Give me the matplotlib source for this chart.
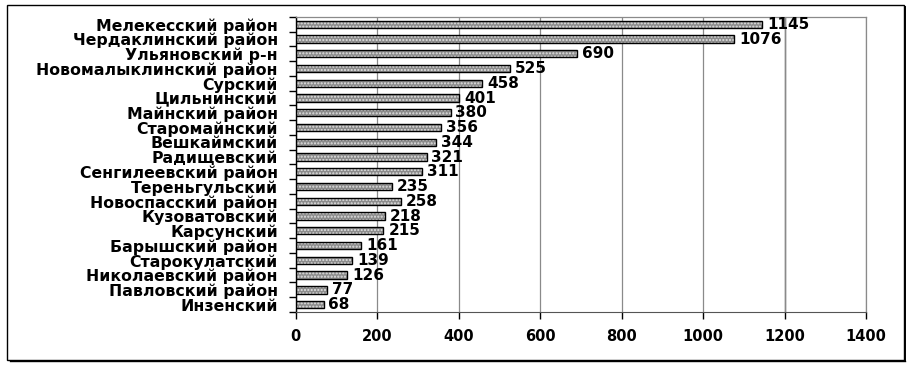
import matplotlib
matplotlib.use("Agg")
import matplotlib.pyplot as plt
import numpy as np

districts = ["Мелекесский район", "Чердаклинский район", "Ульяновский р-н",
             "Новомалыклинский район", "Сурский", "Цильнинский", "Майнский район",
             "Старомайнский", "Вешкаймский", "Радищевский", "Сенгилеевский район",
             "Тереньгульский", "Новоспасский район", "Кузоватовский", "Карсунский",
             "Барышский район", "Старокулатский", "Николаевский район",
             "Павловский район", "Инзенский"]
values = [1145, 1076, 690, 525, 458, 401, 380, 356, 344, 321, 311,
          235, 258, 218, 215, 161, 139, 126, 77, 68]
xticks = [0, 200, 400, 600, 800, 1000, 1200, 1400]

plt.rcParams['font.family'] = ['DejaVu Sans']
plt.rcParams['font.weight'] = 'bold'

fig = plt.figure(figsize=(9.13, 3.67), dpi=100)
ax = fig.add_axes([0.324, 0.150, 0.6245, 0.804])

y = np.arange(len(values))[::-1]
# hatched fill then black outline
ax.barh(y, values, height=0.5, color='#8c8c8c', edgecolor='#e0e0e0',
        hatch='.....', linewidth=0, zorder=3)
ax.barh(y, values, height=0.5, fill=False, edgecolor='black', linewidth=1.0, zorder=4)

for yi, v in zip(y, values):
    ax.text(v + 12, yi, str(v), va='center', ha='left', fontsize=11,
            fontweight='bold', zorder=5)

ax.set_xlim(0, 1400)
ax.set_ylim(-0.5, len(values) - 0.5)
ax.set_xticks(xticks)
ax.set_xticklabels([str(t) for t in xticks], fontsize=10.5, fontweight='bold')
ax.set_yticks(y)
ax.set_yticklabels(districts, fontsize=11.3, fontweight='bold')
ax.set_yticks(np.arange(len(values) + 1) - 0.5, minor=True)
ax.tick_params(axis='y', which='major', length=0, pad=13)
ax.tick_params(axis='y', which='minor', length=5, width=1, direction='out')
ax.tick_params(axis='x', length=5, width=1, pad=7)

ax.grid(axis='x', color='#8a8a8a', linewidth=0.9, zorder=0)
ax.axvline(1200, color='black', linewidth=0.9, zorder=1)
for side in ['top', 'right']:
    ax.spines[side].set_color('#8a8a8a')
    ax.spines[side].set_linewidth(0.9)
ax.spines['left'].set_linewidth(1.0)
ax.spines['bottom'].set_color('#555555')

# outer frame with shadow
fig.patches.append(plt.Rectangle((0.0077, 0.019), 0.982, 0.967, transform=fig.transFigure,
                                 fill=False, edgecolor='black', linewidth=1.0))
fig.lines.append(plt.Line2D([0.9915, 0.9915], [0.015, 0.982], transform=fig.transFigure,
                            color='black', linewidth=1.4))
fig.lines.append(plt.Line2D([0.011, 0.9915], [0.016, 0.016], transform=fig.transFigure,
                            color='black', linewidth=1.0))

fig.savefig("out.png", dpi=100)
